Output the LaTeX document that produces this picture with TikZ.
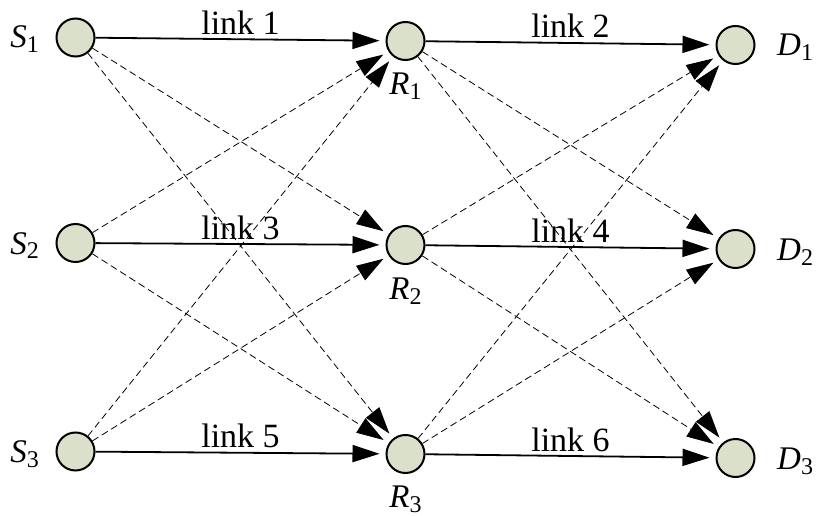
\documentclass[tikz,border=0pt]{standalone}
\usepackage{fontspec}
\setmainfont{Liberation Serif}
\usetikzlibrary{arrows.meta}
\definecolor{nodefill}{RGB}{218,224,202}
\newcommand\lowsub[1]{\raisebox{-5pt}{\fontsize{24}{24}\selectfont #1}}
\tikzset{
  station/.style={circle,draw=black,line width=2pt,fill=nodefill,minimum size=38pt,inner sep=0pt},
  lbl/.style={inner sep=0pt,font=\fontsize{33}{39}\selectfont},
  linktxt/.style={inner sep=0pt,font=\fontsize{34}{40}\selectfont,anchor=base,yshift=5pt},
  arr/.style={-{Triangle[length=27pt,width=17pt]},shorten >=6pt},
  mainlink/.style={arr,line width=1.8pt},
  sidelink/.style={arr,line width=0.8pt,dash pattern=on 7pt off 4pt}
}
\begin{document}
\begin{tikzpicture}[x=1pt,y=-1pt]
\useasboundingbox (0,0) rectangle (817,516);
\node[station] (S1) at (75.5,37.5) {};
\node[station] (S2) at (75.5,243) {};
\node[station] (S3) at (75.5,451.5) {};
\node[station] (R1) at (405.5,41) {};
\node[station] (R2) at (405.5,245) {};
\node[station] (R3) at (405.5,454) {};
\node[station] (D1) at (735.5,45) {};
\node[station] (D2) at (735.5,249) {};
\node[station] (D3) at (735.5,458) {};
\node[lbl,anchor=base east] (lS1) at (39,48) {\textit{S}\lowsub{1}};
\node[lbl,anchor=base east] (lS2) at (39,254) {\textit{S}\lowsub{2}};
\node[lbl,anchor=base east] (lS3) at (39,462) {\textit{S}\lowsub{3}};
\node[lbl,anchor=base] (lR1) at (405.5,95) {\textit{R}\lowsub{1}};
\node[lbl,anchor=base] (lR2) at (405.5,299) {\textit{R}\lowsub{2}};
\node[lbl,anchor=base] (lR3) at (405.5,507) {\textit{R}\lowsub{3}};
\node[lbl,anchor=base west] (lD1) at (777,56) {\textit{D}\lowsub{1}};
\node[lbl,anchor=base west] (lD2) at (777,260) {\textit{D}\lowsub{2}};
\node[lbl,anchor=base west] (lD3) at (777,469) {\textit{D}\lowsub{3}};
% dashed cross links
\foreach \a/\b in {S1/R2,S1/R3,S2/R1,S2/R3,S3/R1,S3/R2,R1/D2,R1/D3,R2/D1,R2/D3,R3/D1,R3/D2}
  \draw[sidelink] (\a) -- (\b);
% solid links
\draw[mainlink] (S1) -- node[linktxt] (t1) {link 1} (R1);
\draw[mainlink] (R1) -- node[linktxt] (t2) {link 2} (D1);
\draw[mainlink] (S2) -- node[linktxt] (t3) {link 3} (R2);
\draw[mainlink] (R2) -- node[linktxt] (t4) {link 4} (D2);
\draw[mainlink] (S3) -- node[linktxt] (t5) {link 5} (R3);
\draw[mainlink] (R3) -- node[linktxt] (t6) {link 6} (D3);
\end{tikzpicture}
\end{document}
